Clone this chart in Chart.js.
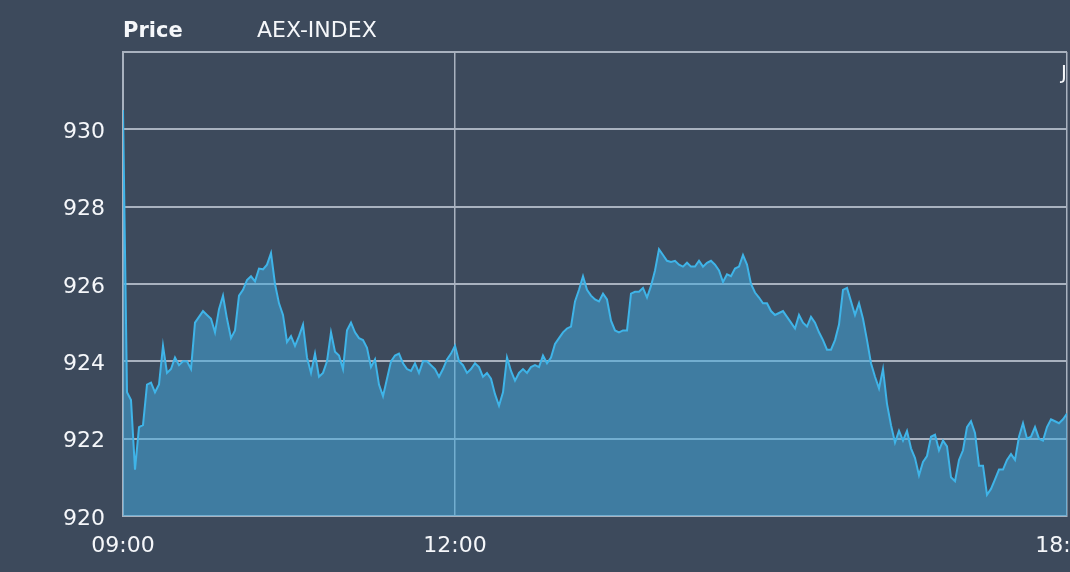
<!DOCTYPE html>
<html>
<head>
<meta charset="utf-8">
<script src="https://cdn.jsdelivr.net/npm/chart.js@4/dist/chart.umd.min.js"></script>
<style>
  html, body { margin: 0; padding: 0; background: #3d4a5c; overflow: hidden; }
  #wrap { width: 1130px; height: 572px; }
</style>
</head>
<body>
<div id="wrap"><canvas id="c" width="1130" height="572"></canvas></div>
<script>
// AEX-INDEX intraday price, evenly spaced samples from 09:00 to the close
const prices = [
  930.5, 923.2, 923.0, 921.2, 922.3, 922.35, 923.4, 923.45, 923.2, 923.4,
  924.4, 923.7, 923.8, 924.1, 923.9, 924.0, 924.0, 923.8, 925.0, 925.15,
  925.3, 925.2, 925.1, 924.75, 925.35, 925.7, 925.1, 924.6, 924.8, 925.7,
  925.85, 926.1, 926.2, 926.07, 926.4, 926.38, 926.5, 926.8, 926.0, 925.5,
  925.2, 924.5, 924.65, 924.4, 924.65, 924.95, 924.1, 923.7, 924.2, 923.6,
  923.7, 924.0, 924.75, 924.25, 924.15, 923.8, 924.8, 925.0, 924.75, 924.6,
  924.55, 924.35, 923.85, 924.05, 923.4, 923.1, 923.55, 924.0, 924.15, 924.2,
  923.95, 923.8, 923.75, 923.95, 923.7, 924.0, 924.0, 923.9, 923.8, 923.6,
  923.8, 924.05, 924.2, 924.4, 924.0, 923.9, 923.7, 923.8, 923.95, 923.85,
  923.6, 923.7, 923.55, 923.15, 922.85, 923.2, 924.1, 923.75, 923.5, 923.7,
  923.8, 923.7, 923.85, 923.9, 923.85, 924.15, 923.95, 924.1, 924.45, 924.6,
  924.75, 924.85, 924.9, 925.55, 925.85, 926.2, 925.85, 925.7, 925.6, 925.55,
  925.75, 925.6, 925.05, 924.8, 924.75, 924.8, 924.8, 925.75, 925.8, 925.8,
  925.9, 925.65, 925.95, 926.35, 926.9, 926.75, 926.6, 926.57, 926.6, 926.5,
  926.45, 926.55, 926.45, 926.45, 926.6, 926.45, 926.55, 926.6, 926.5, 926.35,
  926.05, 926.25, 926.2, 926.4, 926.45, 926.75, 926.5, 926.0, 925.78, 925.65,
  925.5, 925.5, 925.3, 925.2, 925.25, 925.3, 925.15, 925.0, 924.85, 925.2,
  925.0, 924.9, 925.15, 925.0, 924.75, 924.55, 924.3, 924.3, 924.55, 924.95,
  925.85, 925.9, 925.55, 925.2, 925.5, 925.1, 924.55, 923.95, 923.6, 923.3,
  923.8, 922.9, 922.35, 921.9, 922.2, 921.95, 922.2, 921.75, 921.5, 921.05,
  921.4, 921.55, 922.05, 922.1, 921.7, 921.95, 921.8, 921.0, 920.9, 921.45,
  921.7, 922.3, 922.45, 922.15, 921.3, 921.3, 920.55, 920.7, 920.95, 921.2,
  921.2, 921.45, 921.6, 921.45, 922.05, 922.4, 922.0, 922.05, 922.3, 922.0,
  921.95, 922.3, 922.5, 922.45, 922.4, 922.5, 922.65
];

// time axis ticks: sample index where each label sits
const tickIndex  = [0, 83, 236];
const tickLabels = ['09:00', '12:00', '18:00'];

// price axis
const yMin = 920, yMax = 932, yStep = 2;

const seriesName = 'AEX-INDEX';
const panelTitle = 'Price';
const cornerMark = 'J';

const FONT = '"DejaVu Sans", Verdana, sans-serif';
const GRID = '#a9b2bf';
const TEXT = '#f5f7fa';

const points = prices.map((v, i) => ({ x: i, y: v }));

const headerPlugin = {
  id: 'header',
  afterDraw(chart) {
    const ctx = chart.ctx;
    const area = chart.chartArea;
    ctx.save();
    ctx.fillStyle = TEXT;
    ctx.textBaseline = 'alphabetic';
    ctx.textAlign = 'left';
    ctx.font = 'bold 21px ' + FONT;
    ctx.fillText(panelTitle, area.left, 37);
    ctx.font = '22px ' + FONT;
    ctx.fillText(seriesName, 257, 37);
    ctx.font = '20px ' + FONT;
    ctx.fillText(cornerMark, area.right - 6, 79);
    ctx.restore();
  }
};

new Chart(document.getElementById('c'), {
  type: 'line',
  data: {
    datasets: [{
      label: seriesName,
      data: points,
      borderColor: '#3fb4e8',
      borderWidth: 2,
      backgroundColor: 'rgba(66,170,222,0.53)',
      fill: 'start',
      pointRadius: 0,
      tension: 0
    }]
  },
  options: {
    responsive: false,
    animation: false,
    devicePixelRatio: 1,
    layout: { padding: { left: 0, right: 63, top: 52, bottom: 0 } },
    plugins: {
      legend: { display: false },
      tooltip: { enabled: false },
      title: { display: false }
    },
    scales: {
      x: {
        type: 'linear',
        min: 0,
        max: prices.length - 1,
        afterBuildTicks(axis) {
          axis.ticks = tickIndex.map(v => ({ value: v }));
        },
        afterFit(axis) { axis.height = 56; },
        ticks: {
          autoSkip: false,
          maxRotation: 0,
          padding: 17,
          color: TEXT,
          font: { family: FONT, size: 22 },
          callback(value) {
            const k = tickIndex.indexOf(value);
            return k >= 0 ? tickLabels[k] : '';
          }
        },
        grid: { color: GRID, lineWidth: 1.5, drawTicks: false },
        border: { color: GRID, width: 2 }
      },
      y: {
        min: yMin,
        max: yMax,
        afterFit(axis) { axis.width = 123; },
        ticks: {
          stepSize: yStep,
          padding: 18,
          labelOffset: 3,
          color: TEXT,
          font: { family: FONT, size: 22 },
          callback(value) { return value >= yMax ? '' : value; }
        },
        grid: { color: GRID, lineWidth: 2, drawTicks: false },
        border: { color: GRID, width: 2 }
      }
    }
  },
  plugins: [headerPlugin]
});
</script>
</body>
</html>
